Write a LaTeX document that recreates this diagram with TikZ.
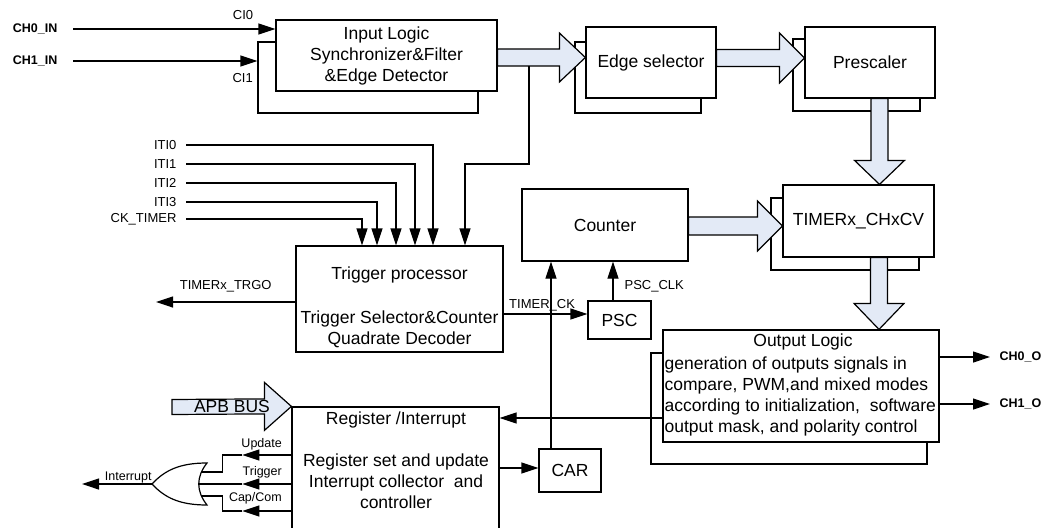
\documentclass[tikz,border=0pt]{standalone}
\usepackage{fontspec}
\setmainfont{Liberation Sans}
\usetikzlibrary{arrows.meta,calc}

\definecolor{busblue}{RGB}{227,234,246}
\newcommand{\bigf}{\fontsize{17.5}{21}\selectfont}
\newcommand{\smf}{\fontsize{13}{15}\selectfont}
\newcommand{\tnf}{\fontsize{12.5}{15}\selectfont}

\begin{document}
\begin{tikzpicture}[
  x=1pt,y=-1pt,line width=1.2pt,
  blk/.style={draw,fill=white,inner sep=0pt,font=\bigf},
  backbox/.style={draw,inner sep=0pt},
  fat/.style={draw,fill=busblue,line join=miter},
  arr/.style={-{Triangle[length=17pt,width=11pt]}},
  lbl/.style={font=\smf,inner sep=1pt},
  portlbl/.style={font=\tnf\bfseries,inner sep=1pt},
  irqlbl/.style={font=\tnf,inner sep=1pt,above left,xshift=-8pt}
]
  \clip (0,0) rectangle (1051,527);

  \node[backbox,minimum width=220pt,minimum height=71pt] (inlogicb) at (368,77.5) {};
  \node[backbox,minimum width=126pt,minimum height=71pt] (edgeselb) at (638,77.5) {};
  \node[backbox,minimum width=127pt,minimum height=72pt] (prescb) at (856.5,75) {};
  \node[backbox,minimum width=148pt,minimum height=72pt] (chxcvb) at (845,234) {};
  \node[backbox,minimum width=276pt,minimum height=111pt] (outlogicb) at (789,408.5) {};

  \node[blk,minimum width=221pt,minimum height=71pt,align=center] (inlogic) at (386.5,55.5)
    {Input Logic\\Synchronizer\&Filter\\\&Edge Detector};
  \node[blk,minimum width=130pt,minimum height=71pt] (edgesel) at (651,62.5) {Edge selector};
  \node[blk,minimum width=130pt,minimum height=71pt] (presc) at (870,62.5) {Prescaler};
  \node[blk,minimum width=151pt,minimum height=72pt] (chxcv) at (858.5,221) {TIMERx\_CHxCV};
  \node[blk,minimum width=166pt,minimum height=72pt] (counter) at (605,225) {Counter};
  \node[blk,minimum width=63pt,minimum height=38pt] (psc) at (619.5,320) {PSC};
  \node[blk,minimum width=62pt,minimum height=43pt] (car) at (570,470.5) {CAR};
  \node[blk,minimum width=207pt,minimum height=106pt] (trigproc) at (399.5,299) {};
  \node[font=\bigf,align=center] (trigtxt) at (399.5,307)
    {Trigger processor\\[23pt]Trigger Selector\&Counter\\Quadrate Decoder};
  \node[blk,minimum width=207pt,minimum height=150pt] (regint) at (395.5,482) {};
  \node[font=\bigf,align=center] (regtxt) at (396,460.5)
    {Register /Interrupt\\[21pt]Register set and update\\Interrupt collector\ \ and\\controller};
  \node[blk,minimum width=276pt,minimum height=112pt] (outlogic) at (801,386) {};
  \node[font=\bigf] (outtitle) at (803,342) {Output Logic};
  \node[font=\bigf,align=left,anchor=west,inner sep=0pt] (outbody) at (664,396.5)
    {generation of outputs signals in\\compare, PWM,and mixed modes\\according to initialization,\ \ software\\output mask, and polarity control};

  \draw[fat] (inlogic.east |- 0,49) -- ($(edgesel.west |- 0,57.5)+(-26,-8.5)$) -- ++(0,-16)
    -- (edgesel.west |- 0,57.5) -- ++(-26,24.5) -- ++(0,-16) -- (inlogic.east |- 0,66) -- cycle;
  \draw[fat] (edgesel.east |- 0,49.5) -- ($(presc.west |- 0,58)+(-25,-8.5)$) -- ++(0,-16.5)
    -- (presc.west |- 0,58) -- ++(-25,25) -- ++(0,-16.5) -- (edgesel.east |- 0,66.5) -- cycle;
  \draw[fat] (counter.east |- 0,217) -- ($(chxcv.west |- 0,226)+(-25,-9)$) -- ++(0,-16)
    -- (chxcv.west |- 0,226) -- ++(-25,25) -- ++(0,-16) -- (counter.east |- 0,235) -- cycle;
  \draw[fat] (presc.south -| 871,0) -- ($(chxcv.north -| 879.5,0)+(-8.5,-24)$) -- ++(-16.5,0)
    -- (chxcv.north -| 879.5,0) -- ++(25,-24) -- ++(-16.5,0) -- (presc.south -| 888,0) -- cycle;
  \draw[fat] (chxcv.south -| 870.5,0) -- ($(outlogic.north -| 879,0)+(-8.5,-26)$) -- ++(-16.5,0)
    -- (outlogic.north -| 879,0) -- ++(25,-26) -- ++(-16.5,0) -- (chxcv.south -| 887.5,0) -- cycle;
  \coordinate (apb) at (172,407);
  \draw[fat] (apb) ++(0,-7.5) -- ($(regint.north west)+(-27,-7.5)$) -- ++(0,-16.5)
    -- (regint.north west) -- ++(-27,24) -- ++(0,-16.5) -- ($(apb)+(0,7.5)$) -- cycle;
  \node[font=\bigf,inner sep=0pt] (apbtxt) at (232,406) {APB BUS};

  \coordinate (ch0in) at (73,29);
  \coordinate (ch1in) at (73,61);
  \draw[arr] (ch0in) node[portlbl,left=14pt]{CH0\_IN}
    -- node[lbl,pos=.84,above=8pt]{CI0} (ch0in -| inlogic.west);
  \draw[arr] (ch1in) node[portlbl,left=14pt]{CH1\_IN}
    -- node[lbl,pos=.92,below=11pt]{CI1} (ch1in -| inlogicb.west);

  \foreach \sig/\yy/\xx in {ITI0/145/433,ITI1/164/415,ITI2/183/396,ITI3/202/377,CK\_TIMER/219/362}{
    \coordinate (src\yy) at (186,\yy);
    \draw[arr] (src\yy) node[lbl,left=8pt]{\sig} -| (trigproc.north -| \xx,0);
  }
  \coordinate (tap) at (529,66);
  \draw[arr] (tap) -- ++(0,98) -| (trigproc.north -| 465,0);

  \coordinate (trgo) at (156,302);
  \draw[arr] (trigproc.west |- trgo) -- node[lbl,above=8pt]{TIMERx\_TRGO} (trgo);
  \draw[arr] (trigproc.east |- 0,314) node[lbl,anchor=south west,xshift=4pt,yshift=1pt]{TIMER\_CK}
    -- (psc.west |- 0,314);
  \draw[arr] (psc.north -| 613,0) -- node[lbl,pos=.375,right=10pt]{PSC\_CLK} (counter.south -| 613,0);
  \draw[arr] (car.north -| 551,0) -- (counter.south -| 551,0);
  \draw[arr] (regint.east |- 0,468) -- (car.west |- 0,468);
  \draw[arr] (outlogic.west |- 0,418) -- (regint.east |- 0,418);

  \coordinate (ch0o) at (990,357);
  \coordinate (ch1o) at (990,404);
  \draw[arr] (outlogic.east |- ch0o) -- (ch0o) node[portlbl,right=8pt]{CH0\_O};
  \draw[arr] (outlogic.east |- ch1o) -- (ch1o) node[portlbl,right=8pt]{CH1\_O};

  \draw (207,463) .. controls (180,463) and (165,470) .. (152,484)
    .. controls (165,498) and (180,505) .. (207,505)
    .. controls (196,491) and (196,477) .. (207,463) -- cycle;
  \coordinate (orout) at (152,484);
  \coordinate (orin1) at (201.7,472);
  \coordinate (orin2) at (198.8,484);
  \coordinate (orin3) at (201.7,496);
  \coordinate (intr) at (82,484);
  \draw[arr] (orout) -- node[lbl,pos=.34,above=0pt,inner sep=0pt,font=\tnf]{Interrupt} (intr);
  \draw[arr] (regint.west |- 0,455) node[irqlbl,yshift=3pt]{Update} -- ++(-49,0) coordinate (updm);
  \draw (updm) -- ++(-20,0) |- (orin1);
  \draw[arr] (regint.west |- orin2) node[irqlbl,yshift=4pt]{Trigger} -- ++(-49,0) coordinate (trgm);
  \draw (trgm) -- (orin2);
  \draw[arr] (regint.west |- 0,511) node[irqlbl,yshift=5pt]{Cap/Com} -- ++(-49,0) coordinate (capm);
  \draw (capm) -- ++(-20,0) |- (orin3);
\end{tikzpicture}
\end{document}
